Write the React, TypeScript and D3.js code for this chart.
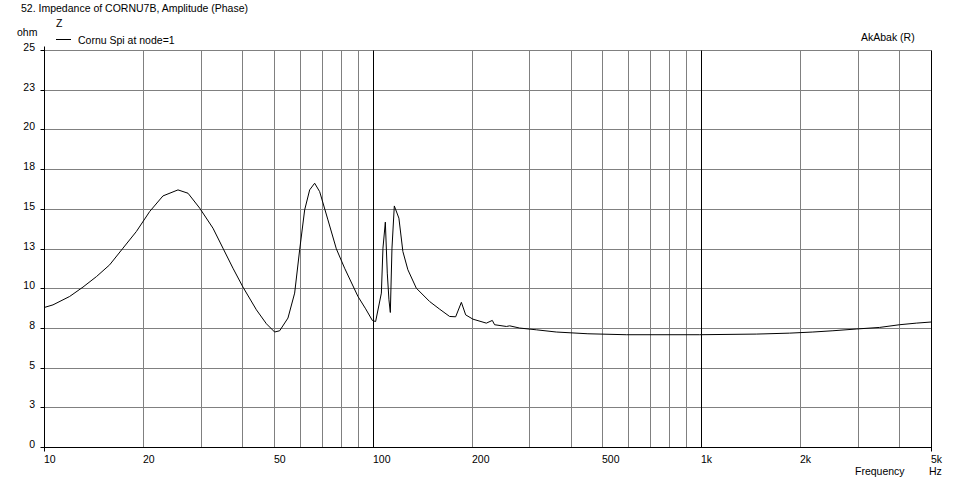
import React from 'react';
import * as d3 from 'd3';

// impedance curve (Hz, ohm)
const freqHz = [
  10, 10.65, 11.97, 13.14, 14.44, 15.84, 17.39, 19.1, 20.97, 23.01,
  25.57, 27.43, 29.77, 32.67, 35.04, 37.58, 40.31, 44.29, 47.5, 50.33,
  52.13, 55.25, 57.9, 59.97, 62.11, 64.32, 66.61, 68.99, 73.11, 77.54,
  82.17, 90.22, 95.22, 99.8, 102.1, 106.3, 107.5, 109.3, 110.8, 112.1,
  113.2, 114.5, 116.4, 120.2, 123.6, 128, 135.8, 149.1, 159.9, 171.5,
  178.9, 186.2, 191.9, 201.9, 221.8, 231.3, 235, 255.2, 261.2, 280.1,
  314.8, 362.2, 451.9, 591.4, 988, 1470, 1856, 2185, 2515, 2963,
  3487, 4012, 4510, 5000,
];
const impedanceOhm = [
  8.78, 8.95, 9.48, 10.07, 10.73, 11.47, 12.52, 13.57, 14.83, 15.81,
  16.19, 15.98, 15.04, 13.78, 12.52, 11.26, 10.07, 8.64, 7.76, 7.24,
  7.32, 8.12, 9.69, 12.42, 14.93, 16.19, 16.61, 16.08, 14.3, 12.48,
  11.26, 9.48, 8.7, 7.97, 7.9, 9.69, 12.52, 14.16, 10.95, 9.27,
  8.47, 12.52, 15.18, 14.41, 12.31, 11.16, 10.0, 9.16, 8.68, 8.22,
  8.2, 9.11, 8.32, 8.05, 7.8, 7.97, 7.7, 7.59, 7.63, 7.49,
  7.38, 7.24, 7.13, 7.07, 7.07, 7.11, 7.17, 7.24, 7.32, 7.43,
  7.53, 7.7, 7.8, 7.87,
];

const yTicks = [0, 2.5, 5, 7.5, 10, 12.5, 15, 17.5, 20, 22.5, 25];
const yTickLabels = ['0', '3', '5', '8', '10', '13', '15', '18', '20', '23', '25'];
const xGrid = [20, 30, 40, 50, 60, 70, 80, 90, 200, 300, 400, 500, 600, 700, 800, 900, 2000, 3000, 4000];
const xMajor = [100, 1000];
const xLabelTicks = [10, 20, 50, 100, 200, 500, 1000, 2000, 5000];
const xTickLabels = ['10', '20', '50', '100', '200', '500', '1k', '2k', '5k'];

const W = 957;
const H = 484;
const FONT = '"Liberation Sans", Arial, sans-serif';

export default function App() {
  const x = d3.scaleLog().domain([10, 5000]).range([44, 931]);
  const y = d3.scaleLinear().domain([0, 25]).range([447, 50]);
  const px = (v: number) => Math.round(x(v)) + 0.5;
  const py = (v: number) => Math.round(y(v)) + 0.5;

  const line = d3
    .line<number>()
    .x((_, i) => x(freqHz[i]))
    .y((d) => y(d))
    .curve(d3.curveLinear);

  const left = px(10);
  const right = px(5000);
  const top = py(25);
  const bottom = py(0);

  return (
    <svg
      width={W}
      height={H}
      style={{ position: 'absolute', left: 0, top: 0, background: '#fff' }}
      fontFamily={FONT}
      fontSize={10.5}
    >
      <rect x={0} y={0} width={W} height={H} fill="#fff" />

      {/* horizontal grid */}
      {yTicks.map((t) => (
        <line key={'h' + t} x1={left} x2={right} y1={py(t)} y2={py(t)} stroke="#808080" />
      ))}
      {/* vertical grid */}
      {xGrid.map((t) => (
        <line key={'v' + t} x1={px(t)} x2={px(t)} y1={top} y2={bottom} stroke="#808080" />
      ))}
      {xMajor.map((t) => (
        <line key={'m' + t} x1={px(t)} x2={px(t)} y1={top} y2={bottom} stroke="#000" />
      ))}

      {/* axes */}
      <line x1={left} x2={left} y1={top - 4} y2={bottom + 4} stroke="#000" />
      <line x1={right} x2={right} y1={top} y2={bottom + 4} stroke="#000" />
      <line x1={left} x2={right} y1={bottom} y2={bottom} stroke="#000" />
      {yTicks.map((t) => (
        <line key={'yt' + t} x1={left - 4} x2={left} y1={py(t)} y2={py(t)} stroke="#000" />
      ))}

      {/* y labels */}
      {yTicks.map((t, i) => (
        <text key={'yl' + t} x={35} y={Math.round(y(t)) + 1} textAnchor="end" fill="#000">
          {yTickLabels[i]}
        </text>
      ))}
      {/* x labels */}
      {xLabelTicks.map((t, i) => (
        <text key={'xl' + t} x={Math.round(x(t))} y={463} fill="#000">
          {xTickLabels[i]}
        </text>
      ))}

      {/* curve */}
      <path d={line(impedanceOhm) || ''} fill="none" stroke="#000" strokeWidth={1} />

      {/* texts */}
      <text x={21} y={12} fill="#000">52. Impedance of CORNU7B, Amplitude (Phase)</text>
      <text x={17} y={36} fill="#000">ohm</text>
      <text x={56} y={27} fill="#000">Z</text>
      <line x1={56} x2={71} y1={39.5} y2={39.5} stroke="#000" />
      <text x={78} y={44} fill="#000">Cornu Spi at node=1</text>
      <text x={861} y={41} fill="#000">AkAbak (R)</text>
      <text x={855} y={475} fill="#000">Frequency</text>
      <text x={929} y={475} fill="#000">Hz</text>
    </svg>
  );
}
